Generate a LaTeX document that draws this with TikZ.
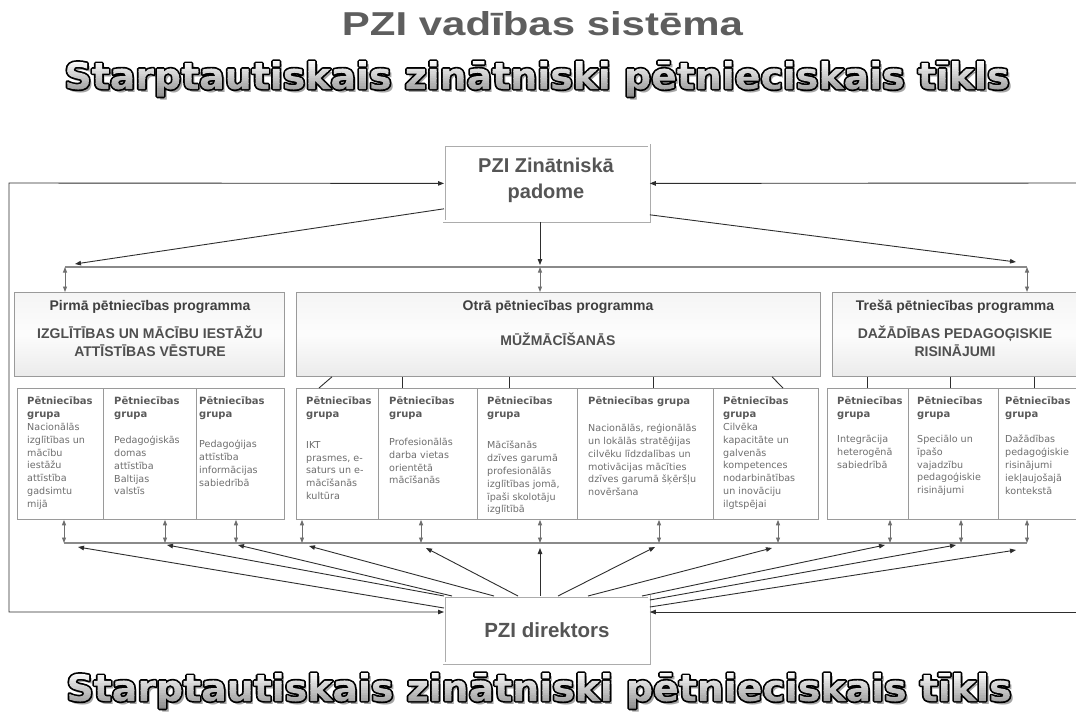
\documentclass[tikz,border=0pt]{standalone}
\usepackage{fontspec}
\usepackage{graphicx}
\setmainfont{Liberation Sans}
\newfontfamily\verd{DejaVu Sans}
\usetikzlibrary{arrows.meta}
\definecolor{titlegray}{HTML}{5E5E5E}
\definecolor{boxtext}{HTML}{555555}
\definecolor{progtext}{HTML}{404040}
\definecolor{capstext}{HTML}{4F4F4F}
\definecolor{grptitle}{HTML}{5A5A5A}
\definecolor{grptext}{HTML}{6E6E6E}
\definecolor{border}{HTML}{9A9A9A}
\definecolor{darkline}{HTML}{2E2E2E}
\definecolor{grayarrow}{HTML}{6F6F6F}
\definecolor{busgray}{HTML}{8A8A8A}
\definecolor{wafill}{HTML}{CBCBCB}
\definecolor{washadow}{HTML}{A4A4A4}

\newcommand\wastring{Starptautiskais zinātniski pētnieciskais tīkls}
\newsavebox\wasavebox
\newcommand\wafilled{%
  \sbox\wasavebox{\verd\bfseries\fontsize{28}{34}\selectfont\wastring}%
  \pgfmathsetmacro\waw{\the\wd\wasavebox*0.99626}%
  \pgfmathsetmacro\wah{\the\ht\wasavebox*0.99626}%
  \pgfmathsetmacro\wad{\the\dp\wasavebox*0.99626}%
  \resizebox{945pt}{28pt}{\color{wafill}%
    \special{pdf:literal direct 2.6 w 1 j 0.29 0.29 0.29 RG 6 Tr}%
    \usebox\wasavebox%
    \special{pdf:literal direct 0 Tr}%
    \foreach \i in {0,...,15}{%
      \pgfmathsetmacro\bh{(\wah+\wad+2)/16}%
      \pgfmathsetmacro\bhh{\bh*1.15}%
      \pgfmathsetmacro\by{\wah+1-(\i+1)*\bh}%
      \pgfmathsetmacro\bx{-\waw-3}%
      \pgfmathsetmacro\bw{\waw+6}%
      \pgfmathsetmacro\bg{0.99-\i*0.029}%
      \special{pdf:content \bg\space g \bx\space \by\space \bw\space \bhh\space re f}%
    }}}
\newcommand\washadowbox{\resizebox{945pt}{28pt}{\verd\bfseries\fontsize{28}{34}\selectfont
  \color{washadow}\wastring}}

\begin{document}
\begin{tikzpicture}[x=1pt,y=-1pt,
  wanode/.style={anchor=base,inner sep=0pt},
  darr/.style={draw=darkline,line width=0.9pt,-{Triangle[length=6pt,width=4.5pt]}},
  garr/.style={draw=grayarrow,line width=0.9pt,{Triangle[length=5.5pt,width=4pt]}-{Triangle[length=5.5pt,width=4pt]}},
  bus/.style={draw=busgray,line width=1.8pt},
  plainline/.style={draw=darkline,line width=0.9pt},
  mainbox/.style={draw=gray!65,double=white,double distance=2pt,line width=0.8pt,fill=white,inner sep=0pt,anchor=north west,minimum width=205pt},
  progbox/.style={draw=border,line width=0.8pt,top color=gray!8,bottom color=gray!16,middle color=gray!2,inner sep=0pt,anchor=north west,minimum height=84pt},
  grpbox/.style={draw=border,line width=0.8pt,fill=white,inner sep=0pt,anchor=north west,minimum height=131pt},
  progtitle/.style={font=\bfseries\fontsize{14}{17}\selectfont,text=progtext,anchor=base,inner sep=0pt},
  progcaps/.style={font=\bfseries\fontsize{14}{17}\selectfont,text=capstext,anchor=base,inner sep=0pt},
  gtitle/.style={font=\verd\bfseries\fontsize{10}{13}\selectfont,text=grptitle,anchor=north west,inner sep=0pt,align=left},
  gdesc/.style={font=\verd\fontsize{9.6}{12.8}\selectfont,text=grptext,anchor=north west,inner sep=0pt,align=left}
]
\useasboundingbox (0,0) rectangle (1076,718);

% titles
\node[anchor=base,inner sep=0pt,text=titlegray] (title) at (542.5,35) {\resizebox{401pt}{24pt}{\bfseries PZI vadības sistēma}};
\node[wanode] (watopshadow) at (540,92) {\washadowbox};
\node[wanode] (watop) at (537,89) {\wafilled};
\node[wanode] (wabotshadow) at (542,704) {\washadowbox};
\node[wanode] (wabot) at (539,701) {\wafilled};

% main boxes
\node[mainbox,minimum height=76pt] (council) at (444,145) {};
\node[font=\bfseries\fontsize{20}{26}\selectfont,text=boxtext,align=center,inner sep=0pt] (counciltext) at (546,180) {PZI Zinātniskā\\padome};
\node[mainbox,minimum height=67pt,font=\bfseries\fontsize{20.5}{24}\selectfont,text=boxtext] (director) at (444,596) {PZI direktors};

% programme boxes
\node[progbox,minimum width=270pt] (p1) at (14,292) {};
\node[progbox,minimum width=524pt] (p2) at (296,292) {};
\node[progbox,minimum width=246pt] (p3) at (832,292) {};
\node[progtitle] (p1t) at (150,310) {Pirmā pētniecības programma};
\node[progcaps] (p1c1) at (150,338) {IZGLĪTĪBAS UN MĀCĪBU IESTĀŽU};
\node[progcaps] (p1c2) at (150,356) {ATTĪSTĪBAS VĒSTURE};
\node[progtitle] (p2t) at (558,310) {Otrā pētniecības programma};
\node[progcaps] (p2c) at (558,345) {MŪŽMĀCĪŠANĀS};
\node[progtitle] (p3t) at (955,310) {Trešā pētniecības programma};
\node[progcaps] (p3c1) at (955,338) {DAŽĀDĪBAS PEDAGOĢISKIE};
\node[progcaps] (p3c2) at (955,356) {RISINĀJUMI};

% group boxes
\node[grpbox,minimum width=86pt] (g1) at (17,388) {};
\node[grpbox,minimum width=93pt] (g2) at (103,388) {};
\node[grpbox,minimum width=88pt] (g3) at (196,388) {};
\node[grpbox,minimum width=82pt] (g4) at (296,388) {};
\node[grpbox,minimum width=99pt] (g5) at (378,388) {};
\node[grpbox,minimum width=100pt] (g6) at (477,388) {};
\node[grpbox,minimum width=136pt] (g7) at (577,388) {};
\node[grpbox,minimum width=105pt] (g8) at (713,388) {};
\node[grpbox,minimum width=81pt] (g9) at (827,388) {};
\node[grpbox,minimum width=90pt] (g10) at (908,388) {};
\node[grpbox,minimum width=79pt] (g11) at (998,388) {};

% group texts
\node[gtitle] (t1) at (27,397) {Pētniecības\\grupa};
\node[gdesc] (d1) at (27,423) {Nacionālās\\izglītības un\\mācību\\iestāžu\\attīstība\\gadsimtu\\mijā};
\node[gtitle] (t2) at (114,397) {Pētniecības\\grupa};
\node[gdesc] (d2) at (114,436) {Pedagoģiskās\\domas\\attīstība\\Baltijas\\valstīs};
\node[gtitle] (t3) at (199,397) {Pētniecības\\grupa};
\node[gdesc] (d3) at (199,440) {Pedagoģijas\\attīstība\\informācijas\\sabiedrībā};
\node[gtitle] (t4) at (306,397) {Pētniecības\\grupa};
\node[gdesc] (d4) at (306,441) {IKT\\prasmes, e-\\saturs un e-\\mācīšanās\\kultūra};
\node[gtitle] (t5) at (389,397) {Pētniecības\\grupa};
\node[gdesc] (d5) at (389,438) {Profesionālās\\darba vietas\\orientētā\\mācīšanās};
\node[gtitle] (t6) at (487,397) {Pētniecības\\grupa};
\node[gdesc] (d6) at (487,441) {Mācīšanās\\dzīves garumā\\profesionālās\\izglītības jomā,\\īpaši skolotāju\\izglītībā};
\node[gtitle] (t7) at (588,397) {Pētniecības grupa};
\node[gdesc] (d7) at (588,424) {Nacionālās, reģionālās\\un lokālās stratēģijas\\cilvēku līdzdalības un\\motivācijas mācīties\\dzīves garumā šķēršļu\\novēršana};
\node[gtitle] (t8) at (723,397) {Pētniecības\\grupa};
\node[gdesc] (d8) at (723,423) {Cilvēka\\kapacitāte un\\galvenās\\kompetences\\nodarbinātības\\un inovāciju\\ilgtspējai};
\node[gtitle] (t9) at (837,397) {Pētniecības\\grupa};
\node[gdesc] (d9) at (837,435) {Integrācija\\heterogēnā\\sabiedrībā};
\node[gtitle] (t10) at (917,397) {Pētniecības\\grupa};
\node[gdesc] (d10) at (917,435) {Speciālo un\\īpašo\\vajadzību\\pedagoģiskie\\risinājumi};
\node[gtitle] (t11) at (1005,397) {Pētniecības\\grupa};
\node[gdesc] (d11) at (1005,435) {Dažādības\\pedagoģiskie\\risinājumi\\iekļaujošajā\\kontekstā};

% outer loop lines
\coordinate (lt) at (9,183);
\coordinate (lb) at (9,612);
\coordinate (rt) at (1077,183);
\coordinate (rb) at (1077,612);
\draw[plainline,{Triangle[length=6pt,width=4.5pt]}-{Triangle[length=6pt,width=4.5pt]}] (council.west) -- (lt) -- (lb) -- (director.west |- lb);
\draw[darr] (rt) -- (council.east);
\draw[darr] (rb) -- (director.east |- rb);

% top bus
\coordinate (tb1) at (65,267);
\coordinate (tb2) at (540,267);
\coordinate (tb3) at (1027,267);
\coordinate (ta1) at (75,264);
\coordinate (ta2) at (540,265);
\coordinate (ta3) at (1016,262);
\draw[bus] (tb1) -- (tb3);
\draw[darr] ([yshift=13pt]council.south west) -- (ta1);
\draw[darr] (council.south -| ta2) -- (ta2);
\draw[darr] ([yshift=7pt]council.south east) -- (ta3);
\draw[garr] (tb1) -- (p1.north -| tb1);
\draw[garr] (tb2) -- (p2.north -| tb2);
\draw[garr] (tb3) -- (p3.north -| tb3);

% programme to group lines
\draw[plainline] ([xshift=36pt]p2.south west) -- ([xshift=23pt]g4.north west);
\draw[plainline] ([xshift=106pt]p2.south west) -- ([xshift=24pt]g5.north west);
\draw[plainline] ([xshift=213pt]p2.south west) -- ([xshift=32pt]g6.north west);
\draw[plainline] ([xshift=357pt]p2.south west) -- ([xshift=76pt]g7.north west);
\draw[plainline] ([xshift=476pt]p2.south west) -- ([xshift=70pt]g8.north west);
\draw[plainline] ([xshift=35pt]p3.south west) -- ([xshift=40pt]g9.north west);
\draw[plainline] ([xshift=118pt]p3.south west) -- ([xshift=42pt]g10.north west);
\draw[plainline] ([xshift=202pt]p3.south west) -- ([xshift=36pt]g11.north west);

% bottom bus
\foreach \n/\x in {1/64,2/165,3/236,4/302,5/421,6/540,7/659,8/778,9/890,10/961,11/1027}{
  \coordinate (bb\n) at (\x,543);}
\draw[bus] (bb1) -- (bb11);
\foreach \n in {1,...,11}{
  \draw[garr] (g\n.south -| bb\n) -- (bb\n);}

% director arrows
\foreach \n/\x/\y in {1/78/547,2/167/545,3/238/545,4/309/546,5/426/548,6/540/548,7/655/547,8/772/548,9/885/545,10/956/545,11/1016/550}{
  \coordinate (da\n) at (\x,\y);}
\draw[darr] ([yshift=-12pt]director.north west) -- (da1);
\draw[darr] (director.north west) -- (da2);
\draw[darr] ([xshift=8pt]director.north west) -- (da3);
\draw[darr] ([xshift=50pt]director.north west) -- (da4);
\draw[darr] ([xshift=74pt]director.north west) -- (da5);
\draw[darr] ([xshift=96pt]director.north west) -- (da6);
\draw[darr] ([xshift=114pt]director.north west) -- (da7);
\draw[darr] ([xshift=144pt]director.north west) -- (da8);
\draw[darr] ([xshift=198pt]director.north west) -- (da9);
\draw[darr] ([yshift=-4pt]director.north east) -- (da10);
\draw[darr] ([yshift=-11pt]director.north east) -- (da11);
\end{tikzpicture}
\end{document}
